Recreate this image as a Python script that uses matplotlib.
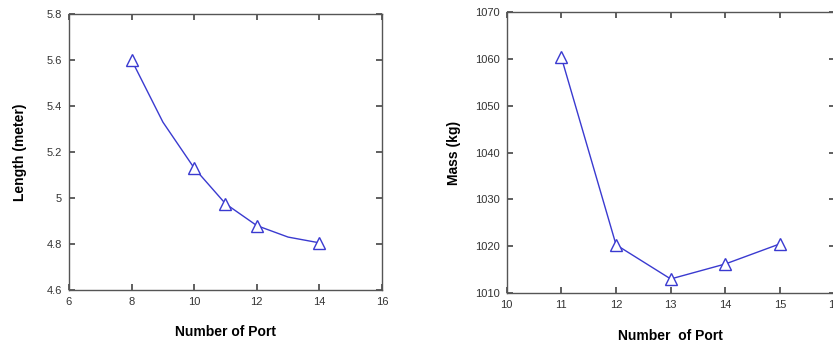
import matplotlib.pyplot as plt

# left panel: length vs number of ports (line passes through 9 and 13 without markers)
ports_len_line = [8, 9, 10, 11, 12, 13, 14]
length_line = [5.60, 5.33, 5.13, 4.975, 4.88, 4.83, 4.805]
ports_len = [8, 10, 11, 12, 14]
length = [5.60, 5.13, 4.975, 4.88, 4.805]

# right panel: mass vs number of ports
ports_mass = [11, 12, 13, 14, 15]
mass = [1060.3, 1020.3, 1013.0, 1016.2, 1020.5]

plt.rcParams['font.family'] = ['Liberation Sans', 'DejaVu Sans']
fig = plt.figure(figsize=(8.33, 3.47), dpi=100)

line_col = '#3a3ad0'
spine_col = '#555555'


def style(ax):
    for s in ax.spines.values():
        s.set_color(spine_col)
        s.set_linewidth(1.0)
    ax.tick_params(direction='in', top=True, right=True, length=4.5,
                   width=1.2, color='#444444', labelsize=8,
                   labelcolor='#333333', pad=5)


ax1 = fig.add_axes([0.0828, 0.1643, 0.3758, 0.7954])
ax1.plot(ports_len_line, length_line, color=line_col, lw=1.0)
ax1.plot(ports_len, length, ls='none', marker='^', ms=9, mfc='white',
         mec=line_col, mew=1.0)
ax1.set_xlim(6, 16)
ax1.set_ylim(4.6, 5.8)
ax1.set_xticks([6, 8, 10, 12, 14, 16])
ax1.set_yticks([4.6, 4.8, 5.0, 5.2, 5.4, 5.6, 5.8])
ax1.set_yticklabels(['4.6', '4.8', '5', '5.2', '5.4', '5.6', '5.8'])
ax1.set_xlabel('Number of Port', fontsize=10, fontweight='bold', labelpad=13)
ax1.set_ylabel('Length (meter)', fontsize=10, fontweight='bold', labelpad=14)
style(ax1)

ax2 = fig.add_axes([0.6083, 0.1556, 0.3937, 0.8098])
ax2.plot(ports_mass, mass, color=line_col, lw=1.0, marker='^', ms=9,
         mfc='white', mec=line_col, mew=1.0)
ax2.set_xlim(10, 16)
ax2.set_ylim(1010, 1070)
ax2.set_xticks([10, 11, 12, 13, 14, 15, 16])
ax2.set_yticks([1010, 1020, 1030, 1040, 1050, 1060, 1070])
ax2.set_xlabel('Number  of Port', fontsize=10, fontweight='bold', labelpad=14)
ax2.set_ylabel('Mass (kg)', fontsize=10, fontweight='bold', labelpad=10)
style(ax2)

fig.savefig('out.png', dpi=100)
